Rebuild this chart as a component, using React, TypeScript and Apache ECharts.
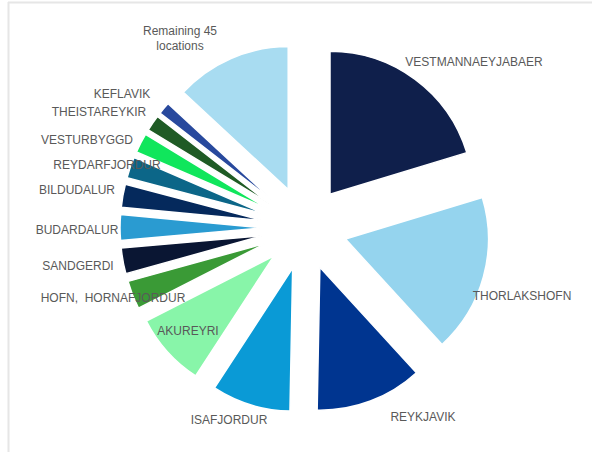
import React, { useEffect, useRef } from "react";
import * as echarts from "echarts";

const categories = [
  "VESTMANNAEYJABAER",
  "THORLAKSHOFN",
  "REYKJAVIK",
  "ISAFJORDUR",
  "AKUREYRI",
  "HOFN,  HORNAFJORDUR",
  "SANDGERDI",
  "BUDARDALUR",
  "BILDUDALUR",
  "REYDARFJORDUR",
  "VESTURBYGGD",
  "THEISTAREYKIR",
  "KEFLAVIK",
  "Remaining 45\nlocations",
];

const values = [20.3, 17.9, 12.1, 8.9, 8.3, 3.2, 2.9, 2.9, 2.6, 2.4, 2.2, 1.8, 1.4, 13.1];

const colors = [
  "#0f1f4b",
  "#95d4ee",
  "#003590",
  "#0a9ad6",
  "#88f5a9",
  "#3a9a36",
  "#0a1633",
  "#2a9bd1",
  "#05295c",
  "#0c6688",
  "#10e65c",
  "#1f5b25",
  "#28499d",
  "#a8dcf1",
];

// label centre positions (style, not data)
const labelPos: [number, number][] = [
  [474, 62],
  [522, 296],
  [423, 417],
  [229, 420],
  [188, 331],
  [113, 298],
  [78, 266],
  [77, 230],
  [77, 190],
  [107, 165],
  [87, 140],
  [99, 112],
  [122, 94],
  [180, 38],
];

export default function App() {
  const ref = useRef<HTMLDivElement>(null);
  useEffect(() => {
    if (!ref.current) return;
    const chart = echarts.init(ref.current, null, { renderer: "svg" });
    const labelStyle = {
      show: true,
      position: "outside",
      color: "#595959",
      fontFamily: "Liberation Sans, Arial, sans-serif",
      fontSize: 12,
      lineHeight: 15,
      align: "center",
      verticalAlign: "middle",
      formatter: "{b}",
    };
    chart.setOption({
      animation: false,
      backgroundColor: "#ffffff",
      graphic: [
        {
          type: "line",
          shape: { x1: 8, y1: 2.5, x2: 592, y2: 2.5 },
          style: { stroke: "#e6e6e6", lineWidth: 2 },
          silent: true,
        },
        {
          type: "line",
          shape: { x1: 8.5, y1: 2, x2: 8.5, y2: 452 },
          style: { stroke: "#e6e6e6", lineWidth: 2 },
          silent: true,
        },
      ],
      series: [
        {
          type: "pie",
          center: [305, 228],
          radius: 143,
          startAngle: 90,
          clockwise: true,
          selectedMode: "multiple",
          selectedOffset: 42,
          emphasis: { disabled: true },
          select: { itemStyle: { borderWidth: 1.5, borderColor: "#ffffff" } },
          label: { show: false },
          labelLine: { show: false },
          data: categories.map((name, i) => ({
            name,
            value: values[i],
            selected: true,
            itemStyle: { color: colors[i], borderWidth: 1.5, borderColor: "#ffffff" },
            select: { itemStyle: { color: colors[i], borderWidth: 1.5, borderColor: "#ffffff" } },
          })),
        },
        {
          type: "pie",
          center: [305, 228],
          radius: 143,
          startAngle: 90,
          clockwise: true,
          silent: true,
          z: 3,
          avoidLabelOverlap: false,
          emphasis: { disabled: true },
          itemStyle: { color: "rgba(0,0,0,0)" },
          label: labelStyle,
          labelLine: { show: false },
          labelLayout: (params: any) => {
            const p = labelPos[params.dataIndex];
            return {
              x: p[0],
              y: p[1],
              align: "center",
              verticalAlign: "middle",
            };
          },
          data: categories.map((name, i) => ({ name, value: values[i] })),
        },
      ],
    });
    return () => chart.dispose();
  }, []);
  return (
    <div
      ref={ref}
      style={{ position: "absolute", left: 0, top: 0, width: 592, height: 454 }}
    />
  );
}
